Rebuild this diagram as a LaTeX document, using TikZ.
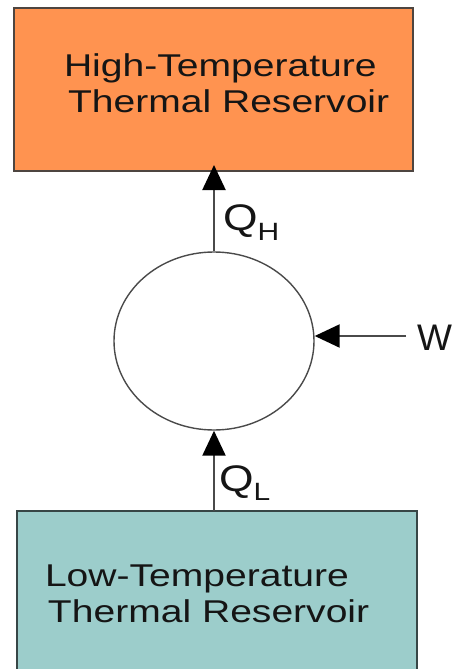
\documentclass[tikz,border=0pt]{standalone}
\usepackage{fontspec}
\newfontfamily\labfont[FakeStretch=1.2]{Liberation Sans}
\newfontfamily\boxfont[FakeStretch=1.24]{Liberation Sans}
\newfontfamily\plainfont{Liberation Sans}
\usetikzlibrary{arrows.meta,shapes.geometric}
\definecolor{hotfill}{HTML}{FF9350}
\definecolor{coldfill}{HTML}{9CCDCB}
\definecolor{hotline}{HTML}{4D4540}
\definecolor{coldline}{HTML}{374646}
\definecolor{inkline}{HTML}{4A4A4A}
\definecolor{inktext}{HTML}{151515}
\begin{document}
\begin{tikzpicture}[x=1pt,y=-1pt,
  box/.style={draw, line width=2pt, inner sep=0pt, outer sep=0pt},
  boxtxt/.style={inner sep=0pt, outer sep=0pt, align=left, anchor=north west, text=inktext, font=\fontsize{31.5}{36}\boxfont},
  flow/.style={draw=inkline, line width=2.2pt, -{Triangle[length=25pt,width=23pt,color=black]}},
  lab/.style={inner sep=0pt, outer sep=0pt, anchor=base west, text=inktext, font=\fontsize{37}{40}\labfont}]
\useasboundingbox (0,0) rectangle (455,669);
\clip (0,0) rectangle (455,669);
% reservoirs
\node[box, draw=hotline, fill=hotfill, minimum width=399pt, minimum height=163pt] (hot) at (213.5,89.5) {};
\node[boxtxt] (hottxt) at (64,54) {High-Temperature\\\hspace*{4pt}Thermal Reservoir};
\node[box, draw=coldline, fill=coldfill, minimum width=400pt, minimum height=189pt] (cold) at (217,605.5) {};
\node[boxtxt] (coldtxt) at (45,565) {Low-Temperature\\\hspace*{3pt}Thermal Reservoir};
% engine
\node[ellipse, draw=inkline, line width=1.4pt, minimum width=200pt, minimum height=178pt, inner sep=0pt] (eng) at (214,341) {};
% flows
\draw[flow, shorten >=-6pt] (eng.north) -- (hot.south -| eng.north);
\draw[flow] (cold.north -| eng.south) -- (eng.south);
\coordinate (wstart) at (406,336);
\draw[flow] (wstart) -- (eng.east |- wstart);
% labels
\node[lab] (qh) at (223,230) {Q{\fontsize{25}{25}\selectfont\raisebox{-10pt}{H}}};
\node[lab] (ql) at (219,491) {Q{\fontsize{25}{25}\selectfont\raisebox{-9pt}{L}}};
\node[lab, font=\fontsize{37}{40}\plainfont] (w) at (417,350) {W};
\end{tikzpicture}
\end{document}
